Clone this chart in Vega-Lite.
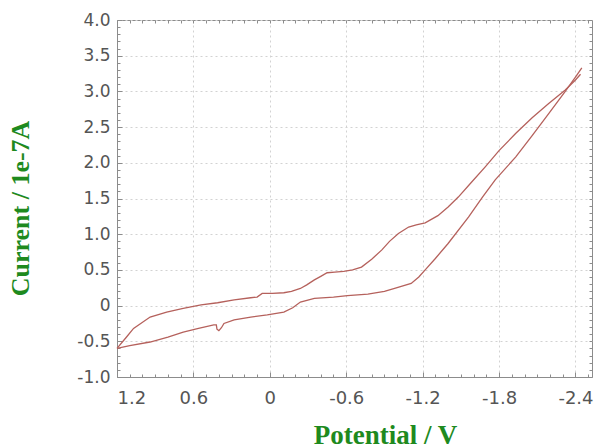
{
  "$schema": "https://vega.github.io/schema/vega-lite/v6.json",
  "width": 475,
  "height": 357,
  "autosize": {"type": "none"},
  "padding": {"left": 117, "top": 20, "right": 3, "bottom": 71},
  "background": "white",
  "config": {"view": {"stroke": "#8c8c8c", "strokeWidth": 1}},
  "data": {"values": [
    {"b": "fwd", "i": 1, "V": 1.2, "I": -0.6},
    {"b": "fwd", "i": 2, "V": 1.1, "I": -0.56},
    {"b": "fwd", "i": 3, "V": 0.94, "I": -0.51},
    {"b": "fwd", "i": 4, "V": 0.8, "I": -0.44},
    {"b": "fwd", "i": 5, "V": 0.68, "I": -0.37},
    {"b": "fwd", "i": 6, "V": 0.56, "I": -0.32},
    {"b": "fwd", "i": 7, "V": 0.44, "I": -0.27},
    {"b": "fwd", "i": 8, "V": 0.42, "I": -0.27},
    {"b": "fwd", "i": 9, "V": 0.415, "I": -0.33},
    {"b": "fwd", "i": 10, "V": 0.4, "I": -0.35},
    {"b": "fwd", "i": 11, "V": 0.38, "I": -0.31},
    {"b": "fwd", "i": 12, "V": 0.36, "I": -0.25},
    {"b": "fwd", "i": 13, "V": 0.28, "I": -0.2},
    {"b": "fwd", "i": 14, "V": 0.15, "I": -0.16},
    {"b": "fwd", "i": 15, "V": 0.02, "I": -0.13},
    {"b": "fwd", "i": 16, "V": -0.11, "I": -0.09},
    {"b": "fwd", "i": 17, "V": -0.18, "I": -0.03},
    {"b": "fwd", "i": 18, "V": -0.24, "I": 0.05},
    {"b": "fwd", "i": 19, "V": -0.35, "I": 0.1},
    {"b": "fwd", "i": 20, "V": -0.5, "I": 0.12},
    {"b": "fwd", "i": 21, "V": -0.61, "I": 0.14},
    {"b": "fwd", "i": 22, "V": -0.77, "I": 0.16},
    {"b": "fwd", "i": 23, "V": -0.9, "I": 0.2},
    {"b": "fwd", "i": 24, "V": -0.98, "I": 0.24},
    {"b": "fwd", "i": 25, "V": -1.11, "I": 0.31},
    {"b": "fwd", "i": 26, "V": -1.17, "I": 0.4},
    {"b": "fwd", "i": 27, "V": -1.22, "I": 0.5},
    {"b": "fwd", "i": 28, "V": -1.3, "I": 0.66},
    {"b": "fwd", "i": 29, "V": -1.4, "I": 0.87},
    {"b": "fwd", "i": 30, "V": -1.56, "I": 1.24},
    {"b": "fwd", "i": 31, "V": -1.67, "I": 1.52},
    {"b": "fwd", "i": 32, "V": -1.77, "I": 1.76},
    {"b": "fwd", "i": 33, "V": -1.93, "I": 2.08},
    {"b": "fwd", "i": 34, "V": -2.06, "I": 2.38},
    {"b": "fwd", "i": 35, "V": -2.19, "I": 2.69},
    {"b": "fwd", "i": 36, "V": -2.32, "I": 3.0},
    {"b": "fwd", "i": 37, "V": -2.4, "I": 3.2},
    {"b": "fwd", "i": 38, "V": -2.45, "I": 3.33},
    {"b": "rev", "i": 39, "V": -2.44, "I": 3.24},
    {"b": "rev", "i": 40, "V": -2.4, "I": 3.16},
    {"b": "rev", "i": 41, "V": -2.32, "I": 3.02},
    {"b": "rev", "i": 42, "V": -2.19, "I": 2.83},
    {"b": "rev", "i": 43, "V": -2.06, "I": 2.63},
    {"b": "rev", "i": 44, "V": -1.93, "I": 2.41},
    {"b": "rev", "i": 45, "V": -1.8, "I": 2.17},
    {"b": "rev", "i": 46, "V": -1.69, "I": 1.94},
    {"b": "rev", "i": 47, "V": -1.58, "I": 1.72},
    {"b": "rev", "i": 48, "V": -1.48, "I": 1.52},
    {"b": "rev", "i": 49, "V": -1.4, "I": 1.38},
    {"b": "rev", "i": 50, "V": -1.32, "I": 1.26},
    {"b": "rev", "i": 51, "V": -1.22, "I": 1.16},
    {"b": "rev", "i": 52, "V": -1.15, "I": 1.13},
    {"b": "rev", "i": 53, "V": -1.09, "I": 1.1},
    {"b": "rev", "i": 54, "V": -1.01, "I": 1.01},
    {"b": "rev", "i": 55, "V": -0.94, "I": 0.9},
    {"b": "rev", "i": 56, "V": -0.88, "I": 0.78},
    {"b": "rev", "i": 57, "V": -0.8, "I": 0.65},
    {"b": "rev", "i": 58, "V": -0.72, "I": 0.54},
    {"b": "rev", "i": 59, "V": -0.65, "I": 0.5},
    {"b": "rev", "i": 60, "V": -0.58, "I": 0.48},
    {"b": "rev", "i": 61, "V": -0.51, "I": 0.47},
    {"b": "rev", "i": 62, "V": -0.45, "I": 0.46},
    {"b": "rev", "i": 63, "V": -0.4, "I": 0.41},
    {"b": "rev", "i": 64, "V": -0.35, "I": 0.36},
    {"b": "rev", "i": 65, "V": -0.29, "I": 0.29},
    {"b": "rev", "i": 66, "V": -0.24, "I": 0.24},
    {"b": "rev", "i": 67, "V": -0.17, "I": 0.2},
    {"b": "rev", "i": 68, "V": -0.11, "I": 0.18},
    {"b": "rev", "i": 69, "V": -0.02, "I": 0.17},
    {"b": "rev", "i": 70, "V": 0.06, "I": 0.17},
    {"b": "rev", "i": 71, "V": 0.1, "I": 0.12},
    {"b": "rev", "i": 72, "V": 0.15, "I": 0.11},
    {"b": "rev", "i": 73, "V": 0.28, "I": 0.08},
    {"b": "rev", "i": 74, "V": 0.41, "I": 0.04},
    {"b": "rev", "i": 75, "V": 0.54, "I": 0.01},
    {"b": "rev", "i": 76, "V": 0.68, "I": -0.04},
    {"b": "rev", "i": 77, "V": 0.81, "I": -0.09},
    {"b": "rev", "i": 78, "V": 0.94, "I": -0.16},
    {"b": "rev", "i": 79, "V": 1.07, "I": -0.32},
    {"b": "rev", "i": 80, "V": 1.13, "I": -0.45},
    {"b": "rev", "i": 81, "V": 1.2, "I": -0.6}
  ]},
  "layer": [
    {
      "mark": {"type": "line", "opacity": 0},
      "encoding": {
        "x": {"field": "V", "type": "quantitative", "scale": {"domain": [-2.53, 1.2], "reverse": true, "nice": false, "zero": false},
          "axis": {"orient": "bottom", "values": [1.2, 0.6, 0, -0.6, -1.2, -1.8, -2.4], "labelExpr": "'' + datum.value",
            "ticks": true, "tickSize": -5, "tickColor": "#8c8c8c", "domain": true, "domainColor": "#8c8c8c", "grid": true, "gridColor": "#d2d2d2", "gridDash": [2, 3],
            "labelFont": "DejaVu Sans", "labelFontSize": 18, "labelColor": "#555555", "labelPadding": 17, "labelBaseline": "top",
            "title": "Potential / V", "titleFont": "Liberation Serif", "titleFontSize": 27, "titleFontWeight": "bold", "titleColor": "#1e8a1e",
            "titleX": 268, "titleY": 58, "titleBaseline": "middle", "titleAlign": "center"}},
        "y": {"field": "I", "type": "quantitative", "scale": {"domain": [-1, 4], "nice": false, "zero": false},
          "axis": {"orient": "left", "values": [-1, -0.5, 0, 0.5, 1, 1.5, 2, 2.5, 3, 3.5, 4],
            "labelExpr": "datum.value == 0 ? '0' : (datum.value % 1 == 0 ? datum.value + '.0' : '' + datum.value)",
            "ticks": true, "tickSize": -5, "tickColor": "#8c8c8c", "domain": true, "domainColor": "#8c8c8c", "grid": true, "gridColor": "#d2d2d2", "gridDash": [2, 3],
            "labelFont": "DejaVu Sans", "labelFontSize": 17, "labelColor": "#555555", "labelPadding": 12,
            "title": "Current / 1e-7A", "titleFont": "Liberation Serif", "titleFontSize": 26, "titleFontWeight": "bold", "titleColor": "#1e8a1e",
            "titleX": -97, "titleY": 188, "titleBaseline": "middle", "titleAngle": -90, "titleAlign": "center"}},
        "order": {"field": "i", "type": "quantitative"},
        "detail": {"field": "b", "type": "nominal"}
      }
    },
    {
      "mark": {"type": "line", "opacity": 0},
      "encoding": {
        "x": {"field": "V", "type": "quantitative", "scale": {"domain": [-2.53, 1.2], "reverse": true, "nice": false, "zero": false},
          "axis": {"orient": "bottom", "values": [1.1, 1.0, 0.9, 0.8, 0.7, 0.5, 0.4, 0.3, 0.2, 0.1, -0.1, -0.2, -0.3, -0.4, -0.5, -0.7, -0.8, -0.9, -1.0, -1.1, -1.3, -1.4, -1.5, -1.6, -1.7, -1.9, -2.0, -2.1, -2.2, -2.3, -2.5],
            "labels": false, "domain": false, "grid": false, "ticks": true, "tickSize": -3, "tickColor": "#8c8c8c", "title": null}},
        "y": {"field": "I", "type": "quantitative", "scale": {"domain": [-1, 4], "nice": false, "zero": false},
          "axis": {"orient": "left", "values": [-0.9, -0.8, -0.7, -0.6, -0.4, -0.3, -0.2, -0.1, 0.1, 0.2, 0.3, 0.4, 0.6, 0.7, 0.8, 0.9, 1.1, 1.2, 1.3, 1.4, 1.6, 1.7, 1.8, 1.9, 2.1, 2.2, 2.3, 2.4, 2.6, 2.7, 2.8, 2.9, 3.1, 3.2, 3.3, 3.4, 3.6, 3.7, 3.8, 3.9],
            "labels": false, "domain": false, "grid": false, "ticks": true, "tickSize": -3, "tickColor": "#8c8c8c", "title": null}},
        "order": {"field": "i", "type": "quantitative"},
        "detail": {"field": "b", "type": "nominal"}
      }
    },
    {
      "mark": {"type": "line", "opacity": 0},
      "encoding": {
        "x": {"field": "V", "type": "quantitative", "scale": {"domain": [-2.53, 1.2], "reverse": true, "nice": false, "zero": false},
          "axis": {"orient": "top", "values": [1.2, 1.1, 1.0, 0.9, 0.8, 0.7, 0.6, 0.5, 0.4, 0.3, 0.2, 0.1, 0, -0.1, -0.2, -0.3, -0.4, -0.5, -0.6, -0.7, -0.8, -0.9, -1.0, -1.1, -1.2, -1.3, -1.4, -1.5, -1.6, -1.7, -1.8, -1.9, -2.0, -2.1, -2.2, -2.3, -2.4, -2.5],
            "labels": false, "domain": false, "grid": false, "ticks": true, "tickSize": -3, "tickColor": "#8c8c8c", "title": null}},
        "y": {"field": "I", "type": "quantitative", "scale": {"domain": [-1, 4], "nice": false, "zero": false},
          "axis": {"orient": "right", "values": [-1, -0.9, -0.8, -0.7, -0.6, -0.5, -0.4, -0.3, -0.2, -0.1, 0, 0.1, 0.2, 0.3, 0.4, 0.5, 0.6, 0.7, 0.8, 0.9, 1, 1.1, 1.2, 1.3, 1.4, 1.5, 1.6, 1.7, 1.8, 1.9, 2, 2.1, 2.2, 2.3, 2.4, 2.5, 2.6, 2.7, 2.8, 2.9, 3, 3.1, 3.2, 3.3, 3.4, 3.5, 3.6, 3.7, 3.8, 3.9, 4],
            "labels": false, "domain": false, "grid": false, "ticks": true, "tickSize": -3, "tickColor": "#8c8c8c", "title": null}},
        "order": {"field": "i", "type": "quantitative"},
        "detail": {"field": "b", "type": "nominal"}
      }
    },
    {
      "mark": {"type": "line", "color": "#b5615c", "strokeWidth": 1.3},
      "encoding": {
        "x": {"field": "V", "type": "quantitative", "scale": {"domain": [-2.53, 1.2], "reverse": true, "nice": false, "zero": false}, "axis": null},
        "y": {"field": "I", "type": "quantitative", "scale": {"domain": [-1, 4], "nice": false, "zero": false}, "axis": null},
        "order": {"field": "i", "type": "quantitative"},
        "detail": {"field": "b", "type": "nominal"}
      }
    }
  ],
  "resolve": {"axis": {"x": "independent", "y": "independent"}}
}
